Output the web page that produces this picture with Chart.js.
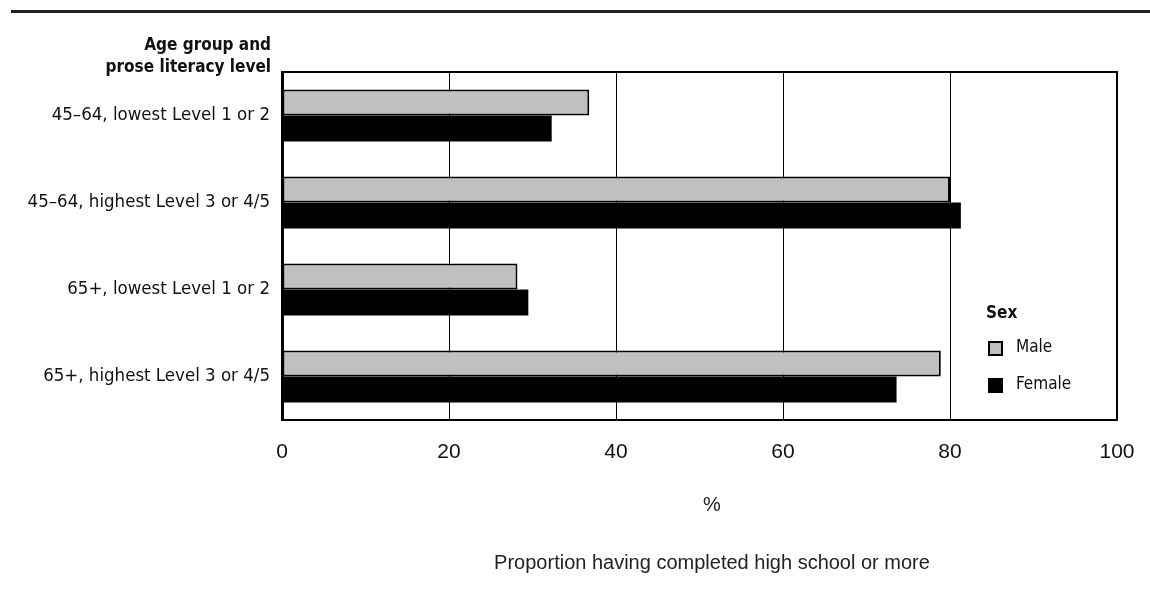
<!DOCTYPE html>
<html>
<head>
<meta charset="utf-8">
<script src="https://cdn.jsdelivr.net/npm/chart.js@4.4.0/dist/chart.umd.min.js"></script>
<style>
  html, body { margin: 0; padding: 0; background: #fff; }
  #wrap { width: 1150px; height: 614px; }
</style>
</head>
<body>
<div id="wrap"><canvas id="chart" width="1150" height="614"></canvas></div>
<script>
// data
const categories = [
  '45–64, lowest Level 1 or 2',
  '45–64, highest Level 3 or 4/5',
  '65+, lowest Level 1 or 2',
  '65+, highest Level 3 or 4/5',
];
const maleValues = [36.8, 80.0, 28.2, 78.9];
const femaleValues = [32.3, 81.3, 29.5, 73.6];
const seriesLabels = ['Male', 'Female'];
const xTicks = [0, 20, 40, 60, 80, 100];
const yAxisTitle = ['Age group and', 'prose literacy level'];
const legendTitle = 'Sex';
const unitLabel = '%';
const footerLabel = 'Proportion having completed high school or more';

const NARROW = "'Liberation Sans Narrow', 'DejaVu Sans Condensed', 'Arial Narrow', sans-serif";
const REGULAR = "'Liberation Sans', Arial, sans-serif";

// extra drawing: top rule, frame, axis title, legend, bottom captions
const decorations = {
  id: 'decorations',
  afterDraw(chart) {
    const { ctx, chartArea: a } = chart;
    ctx.save();

    // rule across the top
    ctx.fillStyle = '#222';
    ctx.fillRect(11, 10, 1139, 3);

    // frame (top and right)
    ctx.strokeStyle = '#000';
    ctx.lineWidth = 2;
    ctx.beginPath();
    ctx.moveTo(a.left, a.top);
    ctx.lineTo(a.right, a.top);
    ctx.lineTo(a.right, a.bottom);
    ctx.stroke();

    // y axis title
    ctx.fillStyle = '#111';
    ctx.font = 'bold 17px ' + NARROW;
    ctx.textAlign = 'right';
    ctx.textBaseline = 'middle';
    ctx.fillText(yAxisTitle[0], a.left - 11, a.top - 26);
    ctx.fillText(yAxisTitle[1], a.left - 11, a.top - 4);

    // legend
    ctx.textAlign = 'left';
    ctx.fillText(legendTitle, 986, 314);
    ctx.font = '17px ' + NARROW;
    const rows = [348, 385];
    chart.data.datasets.forEach((ds, i) => {
      const y = rows[i];
      ctx.fillStyle = ds.backgroundColor;
      ctx.fillRect(989, y - 6, 13, 13);
      ctx.strokeStyle = '#000';
      ctx.lineWidth = 2;
      ctx.strokeRect(989, y - 6, 13, 13);
      ctx.fillStyle = '#111';
      ctx.fillText(ds.label, 1016, y);
    });

    // captions under the axis
    ctx.textAlign = 'center';
    ctx.font = '20px ' + REGULAR;
    ctx.fillStyle = '#222';
    ctx.fillText(unitLabel, 712, 505);
    ctx.fillText(footerLabel, 712, 563);

    ctx.restore();
  },
};

new Chart(document.getElementById('chart').getContext('2d'), {
  type: 'bar',
  data: {
    labels: categories,
    datasets: [
      {
        label: seriesLabels[0],
        data: maleValues,
        backgroundColor: '#c0c0c0',
        borderColor: '#000',
        borderWidth: 2,
        borderSkipped: false,
      },
      {
        label: seriesLabels[1],
        data: femaleValues,
        backgroundColor: '#000',
        borderColor: '#000',
        borderWidth: 0,
      },
    ],
  },
  options: {
    indexAxis: 'y',
    responsive: false,
    animation: false,
    categoryPercentage: 0.6,
    barPercentage: 1.0,
    layout: {
      padding: { top: 72, right: 33, bottom: 0, left: 0 },
    },
    scales: {
      x: {
        min: 0,
        max: 100,
        afterFit: (scale) => {
          scale.height = 194;
          scale.paddingLeft = 0;
          scale.paddingRight = 0;
        },
        afterBuildTicks: (scale) => { scale.ticks = xTicks.map((v) => ({ value: v })); },
        grid: { color: '#000', lineWidth: 1, drawTicks: false },
        border: { color: '#000', width: 2 },
        ticks: {
          color: '#111',
          padding: 20,
          font: { family: REGULAR, size: 21 },
        },
      },
      y: {
        afterFit: (scale) => { scale.width = 282; },
        grid: { display: false, drawTicks: false },
        border: { color: '#000', width: 3 },
        ticks: {
          color: '#111',
          padding: 12,
          font: { family: NARROW, size: 18.5 },
        },
      },
    },
    plugins: {
      legend: { display: false },
      tooltip: { enabled: false },
    },
  },
  plugins: [decorations],
});
</script>
</body>
</html>
